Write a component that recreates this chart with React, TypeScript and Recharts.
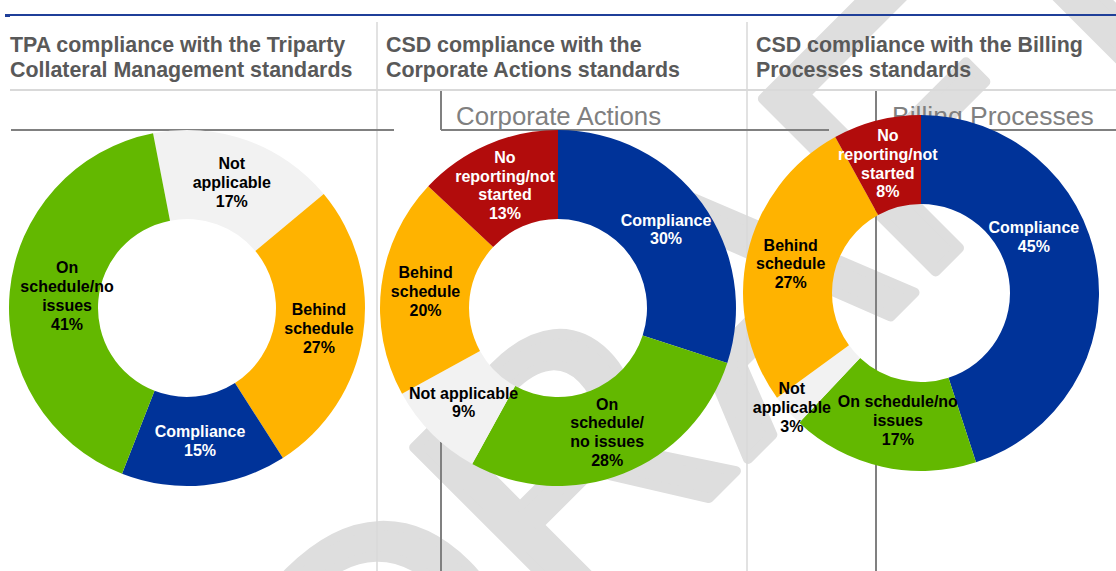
import React from "react";
import { PieChart, Pie, Cell } from "recharts";

// --- data ---
const tpaNames = ["Not applicable", "Behind schedule", "Compliance", "On schedule/no issues"];
const tpaValues = [17, 27, 15, 41];
const tpaLabels = [["Not", "applicable"], ["Behind", "schedule"], ["Compliance"], ["On", "schedule/no", "issues"]];

const caNames = ["Compliance", "On schedule/no issues", "Not applicable", "Behind schedule", "No reporting/not started"];
const caValues = [30, 28, 9, 20, 13];
const caLabels = [["Compliance"], ["On", "schedule/", "no issues"], ["Not applicable"], ["Behind", "schedule"], ["No", "reporting/not", "started"]];

const bpNames = ["Compliance", "On schedule/no issues", "Not applicable", "Behind schedule", "No reporting/not started"];
const bpValues = [45, 17, 3, 27, 8];
const bpLabels = [["Compliance"], ["On schedule/no", "issues"], ["Not", "applicable"], ["Behind", "schedule"], ["No", "reporting/not", "started"]];

const headings = [
  ["TPA compliance with the Triparty", "Collateral Management standards"],
  ["CSD compliance with the", "Corporate Actions standards"],
  ["CSD compliance with the Billing", "Processes standards"],
];

const COLORS: Record<string, string> = {
  Compliance: "#003399",
  "On schedule/no issues": "#63b800",
  "Not applicable": "#f2f2f2",
  "Behind schedule": "#ffb300",
  "No reporting/not started": "#b20c0c",
};
const WHITE_TEXT = ["Compliance", "No reporting/not started"];

// small label offsets where the original placed text off the ring centre
const tpaNudge = [[0, 0], [0, 0], [0, 0], [13, 0]];
const caNudge = [[0, 0], [0, 0], [0, 0], [0, 0], [0, 0]];
const bpNudge = [[-19, -35], [6, -3], [-29, 26], [0, 0], [0, 0]];

const RAD = Math.PI / 180;
const FONT = '"Liberation Sans", Arial, sans-serif';

const build = (names: string[], values: number[]) =>
  names.map((name, i) => ({ name, value: values[i] }));

const makeLabel = (lines: string[][], nudges: number[][]) => (props: any) => {
  const { cx, cy, midAngle, innerRadius, outerRadius, index, value, name } = props;
  const r = (innerRadius + outerRadius) / 2;
  const x = cx + r * Math.cos(-midAngle * RAD) + nudges[index][0];
  const y = cy + r * Math.sin(-midAngle * RAD) + nudges[index][1];
  const all = [...lines[index], `${value}%`];
  const lh = 18.7;
  const y0 = y - ((all.length - 1) * lh) / 2 + 5.6;
  return (
    <text
      x={x}
      y={y0}
      textAnchor="middle"
      fill={WHITE_TEXT.includes(name) ? "#ffffff" : "#000000"}
      fontSize={16}
      fontWeight="bold"
      fontFamily={FONT}
    >
      {all.map((l, i) => (
        <tspan key={i} x={x} y={y0 + i * lh}>
          {l}
        </tspan>
      ))}
    </text>
  );
};

const Background = () => (
  <svg width={1116} height={571} style={{ position: "absolute", left: 0, top: 0 }}>
    {/* watermark */}
    <text
      x={0}
      y={0}
      transform="translate(385,822) rotate(-45)"
      fontFamily={FONT}
      fontSize={355}
      fill="#dedede"
      stroke="#dedede"
      strokeWidth={10}
      strokeLinejoin="round"
    >
      DRAFT
    </text>
    {/* top rule */}
    <line x1={5} y1={15} x2={1116} y2={15} stroke="#1f3f99" strokeWidth={2} />
    <rect x={5} y={14} width={5} height={3} fill="#1f3f99" />
    {/* column separators */}
    <line x1={377} y1={22} x2={377} y2={571} stroke="#d9d9d9" strokeWidth={1.5} />
    <line x1={747} y1={22} x2={747} y2={571} stroke="#d9d9d9" strokeWidth={1.5} />
    <line x1={10} y1={90} x2={1116} y2={90} stroke="#d9d9d9" strokeWidth={2} />
    {/* chart frames */}
    <line x1={11} y1={130} x2={394} y2={130} stroke="#808080" strokeWidth={2} />
    <line x1={441} y1={91} x2={441} y2={130} stroke="#808080" strokeWidth={2} />
    <line x1={441} y1={130} x2={750} y2={130} stroke="#808080" strokeWidth={2} />
    <line x1={441} y1={442} x2={441} y2={571} stroke="#808080" strokeWidth={2} />
    <line x1={747} y1={130} x2={829} y2={130} stroke="#808080" strokeWidth={2} />
    <line x1={876} y1={91} x2={876} y2={571} stroke="#808080" strokeWidth={2} />
    <line x1={876} y1={130} x2={1116} y2={130} stroke="#808080" strokeWidth={2} />
    <text x={456} y={125} fontFamily={FONT} fontSize={25.8} fill="#808080">
      Corporate Actions
    </text>
    <text x={892} y={125} fontFamily={FONT} fontSize={26.5} fill="#808080">
      Billing Processes
    </text>
  </svg>
);

const headingX = [10, 386, 756];

export default function App() {
  const tpaData = build(tpaNames, tpaValues);
  const caData = build(caNames, caValues);
  const bpData = build(bpNames, bpValues);

  return (
    <div
      style={{
        position: "absolute",
        left: 0,
        top: 0,
        width: 1116,
        height: 571,
        background: "#ffffff",
        overflow: "hidden",
        fontFamily: FONT,
      }}
    >
      <Background />
      {headings.map((h, i) => (
        <div
          key={i}
          style={{
            position: "absolute",
            left: headingX[i],
            top: 33,
            fontSize: 21.4,
            lineHeight: "24.5px",
            fontWeight: "bold",
            color: "#595959",
            whiteSpace: "nowrap",
          }}
        >
          {h[0]}
          <br />
          {h[1]}
        </div>
      ))}
      <div style={{ position: "absolute", left: 0, top: 0 }}>
        <PieChart width={1116} height={571} margin={{ top: 0, right: 0, bottom: 0, left: 0 }}>
          <Pie
            data={tpaData}
            dataKey="value"
            nameKey="name"
            cx={187}
            cy={308}
            innerRadius={89}
            outerRadius={178}
            startAngle={101}
            endAngle={-259}
            stroke="none"
            labelLine={false}
            label={makeLabel(tpaLabels, tpaNudge)}
            isAnimationActive={false}
          >
            {tpaData.map((d) => (
              <Cell key={d.name} fill={COLORS[d.name]} />
            ))}
          </Pie>
          <Pie
            data={caData}
            dataKey="value"
            nameKey="name"
            cx={558}
            cy={308}
            innerRadius={89}
            outerRadius={178}
            startAngle={90}
            endAngle={-270}
            stroke="none"
            labelLine={false}
            label={makeLabel(caLabels, caNudge)}
            isAnimationActive={false}
          >
            {caData.map((d) => (
              <Cell key={d.name} fill={COLORS[d.name]} />
            ))}
          </Pie>
          <Pie
            data={bpData}
            dataKey="value"
            nameKey="name"
            cx={921}
            cy={293}
            innerRadius={89}
            outerRadius={178}
            startAngle={90}
            endAngle={-270}
            stroke="none"
            labelLine={false}
            label={makeLabel(bpLabels, bpNudge)}
            isAnimationActive={false}
          >
            {bpData.map((d) => (
              <Cell key={d.name} fill={COLORS[d.name]} />
            ))}
          </Pie>
        </PieChart>
      </div>
    </div>
  );
}
